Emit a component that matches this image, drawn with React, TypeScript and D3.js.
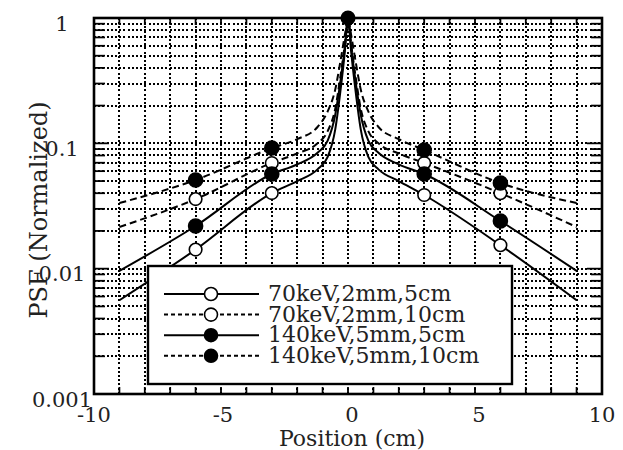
import React from 'react';
import * as d3 from 'd3';

// sample positions (cm) along the profile
const positions = [-9, -6, -3, -2, -1.2, -0.8, -0.5, -0.3, -0.12, 0, 0.12, 0.3, 0.5, 0.8, 1.2, 2, 3, 6, 9];

// normalized PSF for each acquisition
const psf70kev5cm = [0.0056, 0.0142, 0.0401, 0.05, 0.062, 0.078, 0.13, 0.26, 0.55, 1, 0.55, 0.26, 0.13, 0.078, 0.062, 0.05, 0.0387, 0.0154, 0.0056];
const psf70kev10cm = [0.0215, 0.0359, 0.0697, 0.083, 0.1, 0.125, 0.19, 0.34, 0.63, 1, 0.63, 0.34, 0.19, 0.125, 0.1, 0.083, 0.0697, 0.04, 0.0215];
const psf140kev5cm = [0.0096, 0.0219, 0.0569, 0.068, 0.084, 0.105, 0.17, 0.31, 0.6, 1, 0.6, 0.31, 0.17, 0.105, 0.084, 0.068, 0.0569, 0.024, 0.0096];
const psf140kev10cm = [0.0334, 0.051, 0.0917, 0.108, 0.135, 0.18, 0.27, 0.45, 0.74, 1, 0.74, 0.45, 0.27, 0.18, 0.135, 0.108, 0.0885, 0.0482, 0.0334];

const seriesLabels = ['70keV,2mm,5cm', '70keV,2mm,10cm', '140keV,5mm,5cm', '140keV,5mm,10cm'];
const seriesValues = [psf70kev5cm, psf70kev10cm, psf140kev5cm, psf140kev10cm];
const seriesDashed = [false, true, false, true];
const seriesFilled = [false, false, true, true];

// positions where the symbols are drawn
const markerPositions = [-6, -3, 3, 6];

const xTicks = [-10, -5, 0, 5, 10];
const yTicks = [0.001, 0.01, 0.1, 1];
const yTickLabels = ['0.001', '0.01', '0.1', '1'];

const font = '"DejaVu Serif", serif';

const App = () => {
  const width = 623;
  const height = 450;
  const left = 94, right = 602, top = 18, bottom = 394;

  const x = d3.scaleLinear().domain([-10, 10]).range([left, right]);
  const y = d3.scaleLog().domain([0.001, 1]).range([bottom, top]);

  const line = d3
    .line<number>()
    .x((_, i) => x(positions[i]))
    .y((d) => y(d))
    .curve(d3.curveMonotoneX);

  const yMinor = y.ticks(); // 1..9 per decade
  const xGrid = d3.range(-9, 10);
  const isDecade = (v: number) => Math.abs(Math.log10(v) - Math.round(Math.log10(v))) < 1e-6;

  // legend box
  const lg = { x: 148, y: 266, w: 364, h: 118 };
  const rowY = (i: number) => 294 + i * 20.6;

  return (
    <svg width={width} height={height} style={{ position: 'absolute', left: 0, top: 0 }}>
      <rect x={0} y={0} width={width} height={height} fill="#fff" />

      {/* dotted grid */}
      <g stroke="#000" strokeWidth={1.8} strokeDasharray="2,2.2" shapeRendering="crispEdges">
        {yMinor.map((v) => (
          <line key={'h' + v} x1={left} x2={right} y1={Math.round(y(v))} y2={Math.round(y(v))} />
        ))}
        {xGrid.map((v) => (
          <line key={'v' + v} x1={Math.round(x(v))} x2={Math.round(x(v))} y1={top} y2={bottom} />
        ))}
      </g>

      {/* curves */}
      {seriesValues.map((vals, s) => (
        <path
          key={'c' + s}
          d={line(vals) || ''}
          fill="none"
          stroke="#000"
          strokeWidth={2}
          strokeDasharray={seriesDashed[s] ? '7,4' : undefined}
        />
      ))}

      {/* symbols */}
      {seriesValues.map((vals, s) =>
        markerPositions.map((p) => {
          const v = vals[positions.indexOf(p)];
          return (
            <circle
              key={'m' + s + p}
              cx={x(p)}
              cy={y(v)}
              r={seriesFilled[s] ? 7 : 6.3}
              fill={seriesFilled[s] ? '#000' : '#fff'}
              stroke="#000"
              strokeWidth={1.6}
            />
          );
        })
      )}
      <circle cx={x(0)} cy={y(psf140kev10cm[positions.indexOf(0)])} r={7.5} fill="#000" />

      {/* legend */}
      <rect x={lg.x} y={lg.y} width={lg.w} height={lg.h} fill="#fff" stroke="#000" strokeWidth={2.4} />
      {seriesLabels.map((label, i) => (
        <g key={'l' + i}>
          <line
            x1={164}
            x2={259}
            y1={rowY(i)}
            y2={rowY(i)}
            stroke="#000"
            strokeWidth={2}
            strokeDasharray={seriesDashed[i] ? '4,3' : undefined}
          />
          <circle
            cx={211}
            cy={rowY(i)}
            r={6.5}
            fill={seriesFilled[i] ? '#000' : '#fff'}
            stroke="#000"
            strokeWidth={1.6}
          />
          <text x={268} y={rowY(i) + 7} fontFamily={font} fontSize={22} fill="#222">
            {label}
          </text>
        </g>
      ))}

      {/* frame and ticks */}
      <rect x={left} y={top} width={right - left} height={bottom - top} fill="none" stroke="#000" strokeWidth={2.6} />
      <g stroke="#000" strokeWidth={1.8}>
        {yMinor.map((v) => {
          const len = isDecade(v) ? 15 : 11;
          return (
            <g key={'yt' + v}>
              <line x1={left} x2={left + len} y1={y(v)} y2={y(v)} />
              <line x1={right} x2={right - len} y1={y(v)} y2={y(v)} />
            </g>
          );
        })}
        {xGrid.map((v) => (
          <g key={'xt' + v}>
            <line x1={x(v)} x2={x(v)} y1={bottom} y2={bottom - 7} />
            <line x1={x(v)} x2={x(v)} y1={top} y2={top + 7} />
          </g>
        ))}
      </g>

      {/* tick labels */}
      {yTicks.map((v, i) => (
        <text
          key={'yl' + v}
          x={62}
          y={y(v) + 5}
          dy="0.36em"
          textAnchor="middle"
          fontFamily={font}
          fontSize={21}
          fill="#222"
        >
          {yTickLabels[i]}
        </text>
      ))}
      {xTicks.map((v) => (
        <text
          key={'xl' + v}
          x={x(v) + (v >= 0 && v < 10 ? 4 : v === -5 ? 2 : 0)}
          y={422}
          textAnchor="middle"
          fontFamily={font}
          fontSize={21}
          fill="#222"
        >
          {v}
        </text>
      ))}

      {/* axis titles */}
      <text x={352} y={446} textAnchor="middle" fontFamily={font} fontSize={22} fill="#222">
        Position (cm)
      </text>
      <text
        transform="translate(47,210) rotate(-90)"
        textAnchor="middle"
        fontFamily={font}
        fontSize={24}
        fill="#222"
      >
        PSF (Normalized)
      </text>
    </svg>
  );
};

export default App;
